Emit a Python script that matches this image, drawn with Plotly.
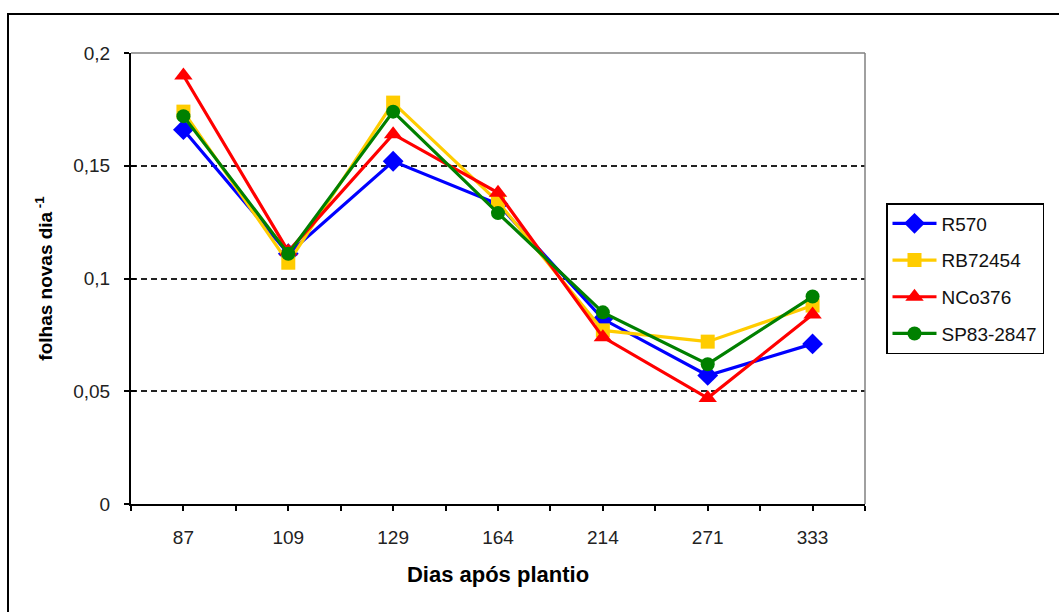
import plotly.graph_objects as go

days = ["87", "109", "129", "164", "214", "271", "333"]
r570 = [0.166, 0.111, 0.152, 0.133, 0.082, 0.057, 0.071]
rb72454 = [0.174, 0.107, 0.178, 0.134, 0.077, 0.072, 0.088]
nco376 = [0.190, 0.112, 0.164, 0.138, 0.074, 0.047, 0.084]
sp832847 = [0.172, 0.111, 0.174, 0.129, 0.085, 0.062, 0.092]

y_tickvals = [0, 0.05, 0.1, 0.15, 0.2]
y_ticktext = ["0", "0,05", "0,1", "0,15", "0,2"]

series = [
    ("R570", r570, "#0000FF", "diamond", 16),
    ("RB72454", rb72454, "#FFCC00", "square", 14),
    ("NCo376", nco376, "#FF0000", "triangle-up", 16),
    ("SP83-2847", sp832847, "#008000", "circle", 14),
]

xpos = list(range(len(days)))

fig = go.Figure()
for i, (name, vals, color, symbol, size) in enumerate(series):
    fig.add_trace(go.Scatter(
        x=xpos, y=vals, name=name, mode="lines+markers",
        line=dict(color=color, width=3.2),
        marker=dict(symbol=symbol, size=size, color=color, line=dict(width=0)),
        legendgroup="g%d" % i,
    ))

# invisible trace to activate the secondary overlay axis (inner tick marks)
fig.add_trace(go.Scatter(x=[], y=[], yaxis="y2", showlegend=False, hoverinfo="skip"))

W, H = 1059, 612
L, R, T, B = 131, 194, 53, 108
pw, ph = W - L - R, H - T - B

def px(x):
    return (x - L) / pw

def py(y):
    return (H - B - y) / ph

tick_font = dict(family="Liberation Sans, Arial, sans-serif", size=19, color="#222222")
title_font_x = dict(family="Liberation Sans Narrow, Arial Narrow, Liberation Sans, Arial, sans-serif", size=22, color="black")
title_font_y = dict(family="Liberation Sans Narrow, Arial Narrow, Liberation Sans, Arial, sans-serif", size=19, color="black")

fig.update_layout(
    width=W, height=H,
    margin=dict(l=L, r=R, t=T, b=B),
    paper_bgcolor="white", plot_bgcolor="white",
    showlegend=True,
    legend=dict(
        x=px(886), y=py(203), xanchor="left", yanchor="top",
        bordercolor="black", borderwidth=1.5,
        font=dict(family="Liberation Sans, Arial, sans-serif", size=19, color="#111111"),
        traceorder="grouped", tracegroupgap=9,
        itemwidth=44,
    ),
    xaxis=dict(
        range=[-0.5, len(days) - 0.5],
        tickvals=xpos, ticktext=days,
        ticks="outside", ticklen=5, tickcolor="black", tickwidth=1.5,
        minor=dict(tick0=-0.5, dtick=1, ticks="outside", ticklen=5, tickcolor="black", tickwidth=1.5, showgrid=False),
        showline=True, linecolor="black", linewidth=2,
        showgrid=False, zeroline=False,
        tickfont=tick_font, ticklabelstandoff=10,
        title=dict(text="<b>Dias após plantio</b>", font=title_font_x, standoff=20),
    ),
    yaxis=dict(
        range=[0, 0.2],
        tickvals=y_tickvals, ticktext=y_ticktext,
        ticks="outside", ticklen=5, tickcolor="black", tickwidth=1.5,
        showline=True, linecolor="black", linewidth=2,
        showgrid=True, gridcolor="#222222", gridwidth=1.5, griddash="6px,4px",
        zeroline=False,
        tickfont=tick_font, ticklabelstandoff=10,
        title=dict(text="<b>folhas novas dia<sup> -1</sup></b>", font=title_font_y, standoff=16),
    ),
    yaxis2=dict(
        overlaying="y", side="left", range=[0, 0.2],
        tickvals=y_tickvals, ticks="inside", ticklen=5, tickcolor="black", tickwidth=1.5,
        showticklabels=False, showgrid=False, showline=False, zeroline=False,
    ),
    shapes=[
        dict(type="line", xref="paper", yref="paper", x0=0, x1=1, y0=1, y1=1,
             line=dict(color="#808080", width=1.5), layer="above"),
        dict(type="line", xref="paper", yref="paper", x0=1, x1=1, y0=0, y1=1,
             line=dict(color="#808080", width=1.5), layer="above"),
        dict(type="rect", xref="paper", yref="paper",
             x0=px(8), x1=px(1075), y0=py(14), y1=py(625),
             line=dict(color="black", width=2), fillcolor="rgba(0,0,0,0)", layer="above"),
    ],
)

fig.write_html("out.html")
